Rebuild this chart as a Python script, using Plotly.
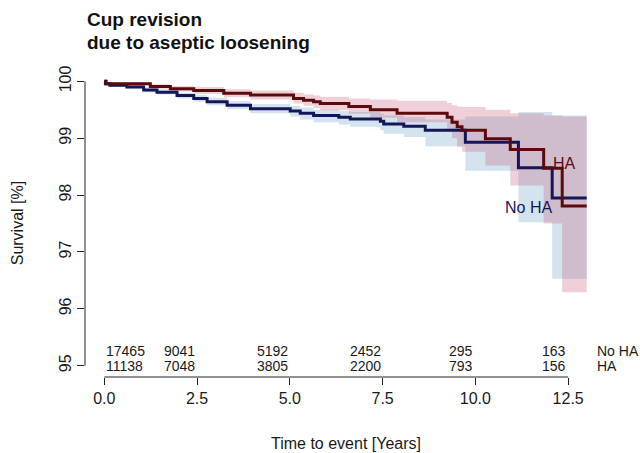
import plotly.graph_objects as go

# ---- data ----
t_noha = [0, 0.03, 0.15, 0.61, 1.06, 1.42, 1.96, 2.41, 2.77, 3.31, 3.94, 5.01, 5.28, 5.64,
          6.32, 6.63, 7.44, 7.53, 8.07, 8.65, 9.73, 11.16, 12.07, 13.0]
s_noha = [100, 99.96, 99.93, 99.90, 99.85, 99.81, 99.75, 99.70, 99.64, 99.58, 99.52, 99.48,
          99.44, 99.40, 99.37, 99.34, 99.30, 99.25, 99.21, 99.14, 98.93, 98.48, 97.95, 97.95]
lo_noha = [100, 99.94, 99.90, 99.87, 99.81, 99.77, 99.70, 99.64, 99.58, 99.51, 99.44, 99.38,
           99.33, 99.28, 99.24, 99.20, 99.14, 99.08, 99.02, 98.86, 98.43, 97.52, 96.53, 96.53]
hi_noha = [100, 99.98, 99.96, 99.94, 99.89, 99.86, 99.80, 99.76, 99.71, 99.65, 99.60, 99.57,
           99.54, 99.50, 99.48, 99.46, 99.43, 99.40, 99.37, 99.33, 99.38, 99.46, 99.40, 99.40]

t_ha = [0, 0.05, 1.24, 1.78, 2.41, 3.22, 3.94, 5.10, 5.37, 5.64, 5.82, 6.59, 7.17, 7.89,
        9.24, 9.37, 9.51, 9.64, 10.27, 10.94, 11.84, 12.34, 13.0]
s_ha = [100, 99.96, 99.91, 99.87, 99.84, 99.79, 99.76, 99.70, 99.67, 99.64, 99.61, 99.56,
        99.50, 99.44, 99.37, 99.28, 99.20, 99.14, 98.99, 98.80, 98.47, 97.81, 97.81]
lo_ha = [100, 99.93, 99.87, 99.82, 99.78, 99.72, 99.68, 99.61, 99.57, 99.53, 99.49, 99.43,
         99.36, 99.28, 99.14, 99.00, 98.85, 98.76, 98.52, 98.17, 97.50, 96.29, 96.29]
hi_ha = [100, 99.99, 99.95, 99.92, 99.90, 99.86, 99.84, 99.80, 99.77, 99.75, 99.73, 99.70,
         99.68, 99.66, 99.62, 99.58, 99.56, 99.55, 99.50, 99.44, 99.40, 99.38, 99.38]

risk_times = [0, 2.5, 5.0, 7.5, 10.0, 12.5]
risk_noha = ["17465", "9041", "5192", "2452", "295", "163"]
risk_ha = ["11138", "7048", "3805", "2200", "793", "156"]

x_ticks = [0, 2.5, 5.0, 7.5, 10.0, 12.5]
x_ticktext = ["0.0", "2.5", "5.0", "7.5", "10.0", "12.5"]
y_ticks = [95, 96, 97, 98, 99, 100]

NAVY = "#15165a"
DARKRED = "#5c0a0c"
BLUE_BAND = "rgba(83,147,187,0.25)"
PINK_BAND = "rgba(190,67,105,0.25)"
FONT = "Liberation Sans, Arial, sans-serif"
TXT = "#1a1a1a"

fig = go.Figure()


def band(t, lo, hi, color):
    fig.add_trace(go.Scatter(x=t, y=lo, mode="lines", line=dict(width=0, shape="hv"),
                             hoverinfo="skip", showlegend=False))
    fig.add_trace(go.Scatter(x=t, y=hi, mode="lines", line=dict(width=0, shape="hv"),
                             fill="tonexty", fillcolor=color,
                             hoverinfo="skip", showlegend=False))


band(t_noha, lo_noha, hi_noha, BLUE_BAND)
band(t_ha, lo_ha, hi_ha, PINK_BAND)

fig.add_trace(go.Scatter(x=t_noha, y=s_noha, mode="lines",
                         line=dict(color=NAVY, width=3, shape="hv"),
                         hoverinfo="skip", showlegend=False))
fig.add_trace(go.Scatter(x=t_ha, y=s_ha, mode="lines",
                         line=dict(color=DARKRED, width=3, shape="hv"),
                         hoverinfo="skip", showlegend=False))

ann = []
# title
ann.append(dict(text="<b>Cup revision</b>", xref="paper", yref="paper", x=0, y=1.163,
                xanchor="left", yanchor="middle", showarrow=False,
                font=dict(family=FONT, size=19, color="#111")))
ann.append(dict(text="<b>due to aseptic loosening</b>", xref="paper", yref="paper", x=0, y=1.088,
                xanchor="left", yanchor="middle", showarrow=False,
                font=dict(family=FONT, size=19, color="#111")))
# axis titles
ann.append(dict(text="Survival [%]", xref="paper", yref="y", x=-0.129, y=97.5,
                textangle=-90, xanchor="center", yanchor="middle", showarrow=False,
                font=dict(family=FONT, size=16, color=TXT)))
ann.append(dict(text="Time to event [Years]", xref="paper", yref="paper", x=0.5, y=-0.215,
                xanchor="center", yanchor="middle", showarrow=False,
                font=dict(family=FONT, size=16, color=TXT)))
# curve labels
ann.append(dict(text="HA", xref="x", yref="y", x=12.41, y=98.56, showarrow=False,
                xanchor="center", yanchor="middle",
                font=dict(family=FONT, size=16, color=DARKRED)))
ann.append(dict(text="No HA", xref="x", yref="y", x=11.44, y=97.78, showarrow=False,
                xanchor="center", yanchor="middle",
                font=dict(family=FONT, size=16, color=NAVY)))
# numbers at risk
for i, (tt, a, b) in enumerate(zip(risk_times, risk_noha, risk_ha)):
    anchor = "left" if i == 0 else "right"
    ann.append(dict(text=a, xref="x", yref="y", x=tt, y=95.26, showarrow=False,
                    xanchor=anchor, yanchor="middle",
                    font=dict(family=FONT, size=14, color=TXT)))
    ann.append(dict(text=b, xref="x", yref="y", x=tt, y=95.0, showarrow=False,
                    xanchor=anchor, yanchor="middle",
                    font=dict(family=FONT, size=14, color=TXT)))
ann.append(dict(text="No HA", xref="x", yref="y", x=13.22, y=95.26, showarrow=False,
                xanchor="left", yanchor="middle", font=dict(family=FONT, size=14, color=TXT)))
ann.append(dict(text="HA", xref="x", yref="y", x=13.22, y=95.0, showarrow=False,
                xanchor="left", yanchor="middle", font=dict(family=FONT, size=14, color=TXT)))

shapes = [
    dict(type="line", xref="paper", yref="y", x0=0, x1=0, y0=95, y1=100,
         line=dict(color="#222", width=1)),
    dict(type="line", xref="x", yref="paper", x0=0, x1=12.5, y0=0, y1=0,
         line=dict(color="#222", width=1)),
]

fig.update_layout(
    width=640, height=453,
    margin=dict(l=85, r=34, t=70, b=76),
    paper_bgcolor="white", plot_bgcolor="white",
    annotations=ann, shapes=shapes,
    xaxis=dict(range=[-0.52, 13.52], tickvals=x_ticks, ticktext=x_ticktext,
               ticks="outside", ticklen=7, tickwidth=1, tickcolor="#222",
               showline=False, showgrid=False, zeroline=False,
               tickfont=dict(family=FONT, size=16, color=TXT)),
    yaxis=dict(range=[94.8, 100.2], tickvals=y_ticks, tickangle=-90,
               ticks="outside", ticklen=7, tickwidth=1, tickcolor="#222",
               showline=False, showgrid=False, zeroline=False,
               tickfont=dict(family=FONT, size=16, color=TXT)),
    showlegend=False,
)

fig.write_html("out.html", config={"displayModeBar": False},
               post_script="document.body.style.margin='0';document.body.style.overflow='hidden';")
